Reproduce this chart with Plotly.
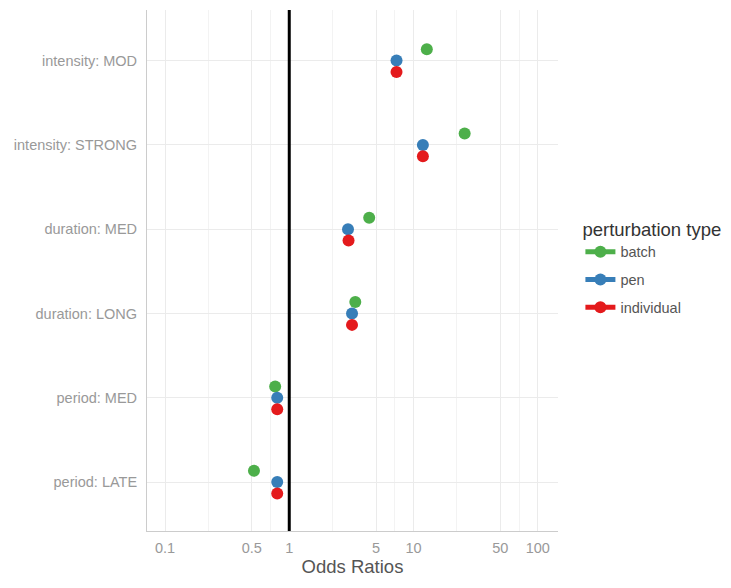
import plotly.graph_objects as go

# ---- data ----
categories = ["intensity: MOD", "intensity: STRONG", "duration: MED",
              "duration: LONG", "period: MED", "period: LATE"]
series_names = ["batch", "pen", "individual"]
batch_or = [12.8, 25.8, 4.4, 3.4, 0.77, 0.52]
pen_or = [7.3, 11.9, 2.97, 3.2, 0.8, 0.8]
individual_or = [7.3, 11.9, 3.0, 3.2, 0.8, 0.8]
x_ticks = [0.1, 0.5, 1, 5, 10, 50, 100]
x_tick_labels = ["0.1", "0.5", "1", "5", "10", "50", "100"]

colors = {"batch": "#4DAF4A", "pen": "#377EB8", "individual": "#E41A1C"}
offsets = {"batch": 0.135, "pen": 0.0, "individual": -0.135}
values = {"batch": batch_or, "pen": pen_or, "individual": individual_or}

n = len(categories)
base_pos = [n - 1 - i for i in range(n)]

fig = go.Figure()
for name in series_names:
    fig.add_trace(go.Scatter(
        x=values[name],
        y=[p + offsets[name] for p in base_pos],
        mode="markers",
        marker=dict(color=colors[name], size=12),
        name=name,
        showlegend=False,
    ))
# legend entries (point with line through, ggplot style)
for name in series_names:
    fig.add_trace(go.Scatter(
        x=[None], y=[None], mode="lines+markers",
        marker=dict(color=colors[name], size=10),
        line=dict(color=colors[name], width=1),
        name=name, showlegend=True, legendgroup=name,
    ))

fig.add_shape(type="line", xref="x", yref="paper", x0=1, x1=1, y0=0, y1=1,
              line=dict(color="black", width=3), layer="above")

font_family = "Liberation Sans, Arial, sans-serif"
fig.update_layout(
    width=731, height=588,
    margin=dict(l=147, r=173, t=10, b=57, autoexpand=False),
    plot_bgcolor="white", paper_bgcolor="white",
    font=dict(family=font_family),
    showlegend=True,
    legend=dict(
        title=dict(text="perturbation type", font=dict(size=18.5, color="#333333")),
        font=dict(size=14.5, color="#555555"),
        xref="container", yref="container",
        x=0.794, xanchor="left", y=0.64, yanchor="top",
        itemsizing="constant", tracegroupgap=6,
        bgcolor="rgba(0,0,0,0)",
    ),
    xaxis=dict(
        type="log",
        range=[-1.145, 2.163],
        tickvals=x_ticks, ticktext=x_tick_labels,
        tickfont=dict(size=14.5, color="#999999"),
        showgrid=True, gridcolor="#EBEBEB", gridwidth=1,
        minor=dict(tickvals=[0.2236, 0.7071, 2.236, 7.071, 22.36, 70.71],
                   showgrid=True, gridcolor="#F3F3F3", gridwidth=1),
        showline=True, linecolor="#CCCCCC", linewidth=1,
        zeroline=False, ticks="", ticklabelstandoff=4,
        title=dict(text="Odds Ratios", font=dict(size=18.5, color="#555555"),
                   standoff=2),
    ),
    yaxis=dict(
        range=[-0.58, 5.6],
        tickvals=base_pos, ticktext=categories,
        tickfont=dict(size=14.5, color="#999999"),
        showgrid=True, gridcolor="#EBEBEB", gridwidth=1,
        showline=True, linecolor="#CCCCCC", linewidth=1,
        zeroline=False, ticks="", ticklabelstandoff=6,
    ),
)

fig.write_html("out.html")
